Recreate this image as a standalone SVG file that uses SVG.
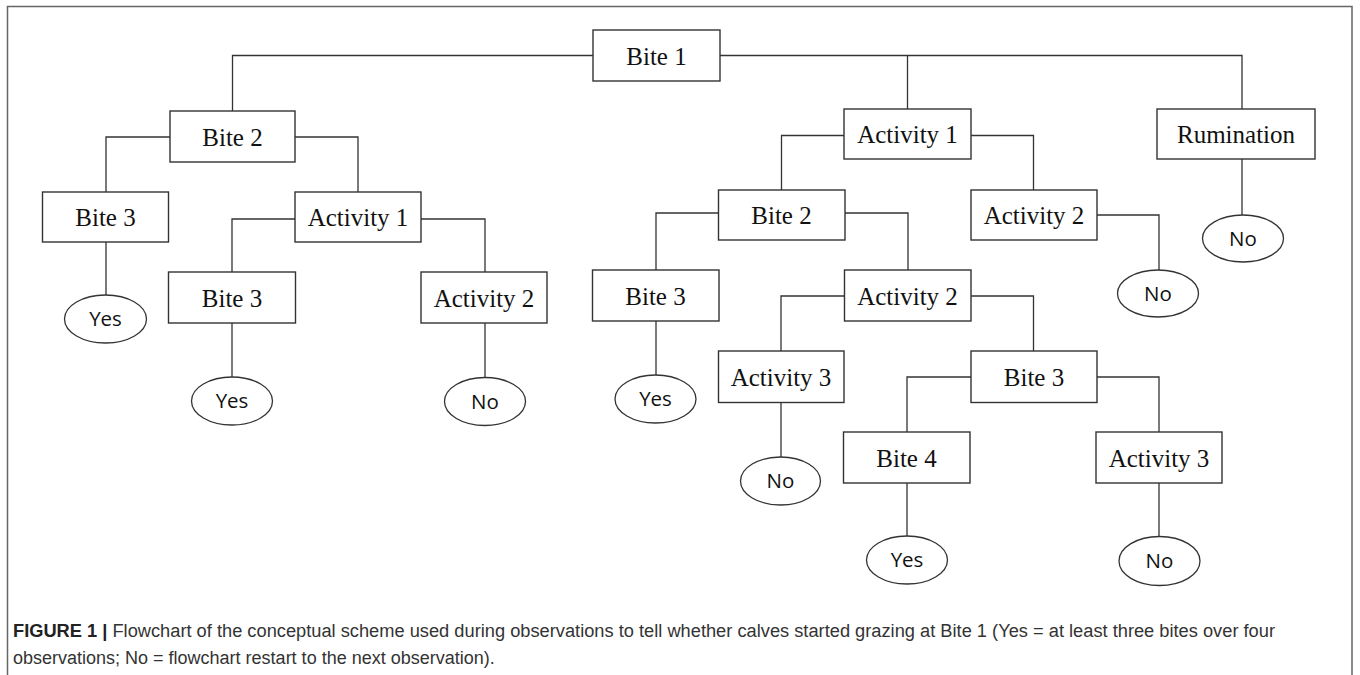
<svg xmlns="http://www.w3.org/2000/svg" width="1360" height="675" viewBox="0 0 1360 675">
<style>
  .box{fill:#fff;stroke:#333;stroke-width:1.4}
  .ell{fill:#fff;stroke:#333;stroke-width:1.3}
  .lbl{font-family:"Liberation Serif","Times New Roman",serif;font-size:25px;fill:#111;text-anchor:middle}
  .res{font-family:"Open Sans","Noto Sans",sans-serif;font-size:20.5px;fill:#111;text-anchor:middle}
  .conn path{fill:none;stroke:#333;stroke-width:1.3}
  .cap{font-family:"Liberation Sans",Arial,sans-serif;font-size:18px;fill:#333}
</style>
<rect width="1360" height="675" fill="#fff"/>
<path d="M7.5,676 V6.5 H1352 V676" fill="none" stroke="#666" stroke-width="1.5"/>

<g class="conn" id="connectors">
  <path d="M593,55.5 H232.5 V111"/>
  <path d="M720,55.5 H1242 V109"/>
  <path d="M907.5,55.5 V109"/>
  <path d="M170,137 H106 V192"/>
  <path d="M295,137 H358 V192"/>
  <path d="M106,242 V295"/>
  <path d="M295,219 H232 V272"/>
  <path d="M421,219 H485 V272"/>
  <path d="M232,323 V377"/>
  <path d="M485,323 V377.5"/>
  <path d="M844,135.5 H781.5 V190"/>
  <path d="M971,135.5 H1033.5 V190"/>
  <path d="M1242,159 V215"/>
  <path d="M1097,215 H1159 V270"/>
  <path d="M718,213 H656 V270"/>
  <path d="M845,213 H908 V270"/>
  <path d="M656,321 V375"/>
  <path d="M844,296 H781 V351"/>
  <path d="M971,296 H1033.5 V351"/>
  <path d="M781,402 V457"/>
  <path d="M971,377 H907 V432"/>
  <path d="M1097,377 H1159 V432"/>
  <path d="M907,483 V536"/>
  <path d="M1159,483 V537"/>
</g>

<g id="bite1"><rect class="box" x="593" y="30" width="127" height="51"/><text class="lbl" x="656.5" y="64.5">Bite 1</text></g>
<g id="bite2L"><rect class="box" x="170" y="111" width="125" height="51"/><text class="lbl" x="232.5" y="145.5">Bite 2</text></g>
<g id="bite3L"><rect class="box" x="42.5" y="192" width="126" height="50"/><text class="lbl" x="105.5" y="226">Bite 3</text></g>
<g id="activity1L"><rect class="box" x="295" y="192" width="126" height="50"/><text class="lbl" x="358" y="226">Activity 1</text></g>
<g id="bite3L2"><rect class="box" x="168.5" y="272" width="127" height="51"/><text class="lbl" x="232" y="306.5">Bite 3</text></g>
<g id="activity2L"><rect class="box" x="421" y="272" width="126" height="51"/><text class="lbl" x="484" y="306.5">Activity 2</text></g>
<g id="yes1"><ellipse class="ell" cx="105.5" cy="319" rx="41" ry="24"/><text class="res" x="105.5" y="326">Yes</text></g>
<g id="yes2"><ellipse class="ell" cx="232" cy="401" rx="40.5" ry="24"/><text class="res" x="232" y="408">Yes</text></g>
<g id="no1"><ellipse class="ell" cx="485" cy="401.5" rx="40.5" ry="24"/><text class="res" x="485" y="408.5">No</text></g>

<g id="activity1R"><rect class="box" x="844" y="109" width="127" height="50"/><text class="lbl" x="907.5" y="143">Activity 1</text></g>
<g id="rumination"><rect class="box" x="1157" y="109" width="158" height="50"/><text class="lbl" x="1236" y="143">Rumination</text></g>
<g id="bite2R"><rect class="box" x="718.5" y="190" width="126.5" height="50"/><text class="lbl" x="781.5" y="224">Bite 2</text></g>
<g id="activity2R"><rect class="box" x="971" y="190" width="126" height="50"/><text class="lbl" x="1034" y="224">Activity 2</text></g>
<g id="bite3M"><rect class="box" x="592.5" y="270" width="126.5" height="51"/><text class="lbl" x="655.5" y="304.5">Bite 3</text></g>
<g id="activity2M"><rect class="box" x="844.5" y="270" width="126.5" height="51"/><text class="lbl" x="907.5" y="304.5">Activity 2</text></g>
<g id="activity3M"><rect class="box" x="718.5" y="351" width="125.5" height="51.5"/><text class="lbl" x="781" y="385.5">Activity 3</text></g>
<g id="bite3R"><rect class="box" x="971" y="351" width="126" height="51.5"/><text class="lbl" x="1034" y="385.5">Bite 3</text></g>
<g id="bite4"><rect class="box" x="843.5" y="432" width="126.5" height="51"/><text class="lbl" x="906.5" y="466.5">Bite 4</text></g>
<g id="activity3R"><rect class="box" x="1096" y="432" width="126" height="51"/><text class="lbl" x="1159" y="466.5">Activity 3</text></g>
<g id="yes3"><ellipse class="ell" cx="655.5" cy="399" rx="40.5" ry="24"/><text class="res" x="655.5" y="406">Yes</text></g>
<g id="no2"><ellipse class="ell" cx="780.5" cy="481" rx="40" ry="24"/><text class="res" x="780.5" y="488">No</text></g>
<g id="no3"><ellipse class="ell" cx="1158" cy="293.5" rx="40.5" ry="23.5"/><text class="res" x="1158" y="300.5">No</text></g>
<g id="no4"><ellipse class="ell" cx="1243" cy="238.5" rx="40.5" ry="23.5"/><text class="res" x="1243" y="245.5">No</text></g>
<g id="yes4"><ellipse class="ell" cx="907" cy="560" rx="40.5" ry="24"/><text class="res" x="907" y="567">Yes</text></g>
<g id="no5"><ellipse class="ell" cx="1159.5" cy="561" rx="40.5" ry="24.5"/><text class="res" x="1159.5" y="568">No</text></g>

<g id="caption">
  <text class="cap" x="13" y="637" textLength="1262" lengthAdjust="spacingAndGlyphs"><tspan font-weight="bold" fill="#222">FIGURE 1 |</tspan> Flowchart of the conceptual scheme used during observations to tell whether calves started grazing at Bite 1 (Yes = at least three bites over four</text>
  <text class="cap" x="13" y="664">observations; No = flowchart restart to the next observation).</text>
</g>
</svg>
